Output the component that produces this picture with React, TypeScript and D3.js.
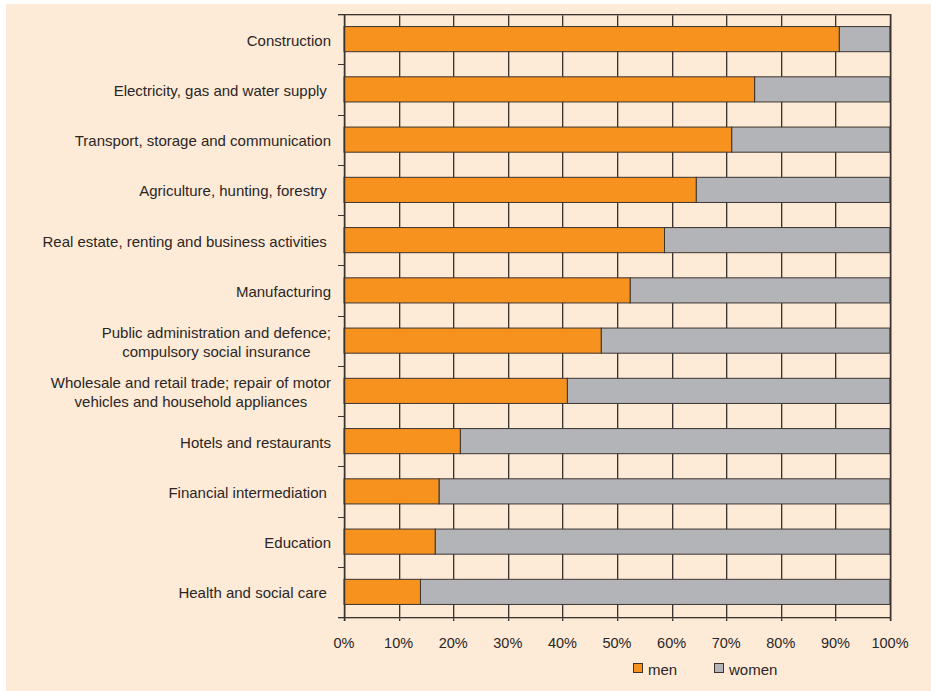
import React, { useEffect, useRef } from "react";
import * as d3 from "d3";

const categories: string[][] = [
  ["Construction"],
  ["Electricity, gas and water supply "],
  ["Transport, storage and communication"],
  ["Agriculture, hunting, forestry "],
  ["Real estate, renting and business activities "],
  ["Manufacturing"],
  ["Public administration and defence;", "compulsory social insurance"],
  ["Wholesale and retail trade; repair of motor", "vehicles and household appliances"],
  ["Hotels and restaurants"],
  ["Financial intermediation "],
  ["Education"],
  ["Health and social care "],
];
const menShare: number[] = [90.7, 75.2, 71.0, 64.5, 58.7, 52.4, 47.1, 40.9, 21.3, 17.4, 16.7, 14.0];
const xTicks: number[] = [0, 10, 20, 30, 40, 50, 60, 70, 80, 90, 100];
const seriesNames: string[] = ["men", "women"];
const seriesColors: string[] = ["#F7921E", "#B3B4B7"];

const W = 931;
const H = 691;
const M = { left: 344, right: 41, top: 14, bottom: 74 };
const FONT = "'Liberation Sans', Arial, sans-serif";
const TEXT = "#2b2626";
const LINE = "#3a3431";

export default function App() {
  const ref = useRef<SVGSVGElement | null>(null);
  useEffect(() => {
    const svg = d3.select(ref.current);
    svg.selectAll("*").remove();
    svg.append("rect").attr("x", 6).attr("y", 4).attr("width", W - 6).attr("height", H - 4).attr("fill", "#FDEBD7");

    const x = d3.scaleLinear().domain([0, 100]).range([M.left, W - M.right]);
    const y = d3
      .scaleBand<number>()
      .domain(d3.range(categories.length))
      .range([M.top, H - M.bottom])
      .paddingInner(0.5)
      .paddingOuter(0.25);
    const step = y.step();
    const y0 = M.top;
    const y1 = H - M.bottom;

    const g = svg.append("g");
    xTicks.forEach((t) => {
      const xx = Math.round(x(t)) + 0.5;
      g.append("line").attr("x1", xx + 1).attr("x2", xx + 1).attr("y1", y0).attr("y2", y1 + 4)
        .attr("stroke", "#8a7c70").attr("stroke-opacity", 0.55);
      g.append("line").attr("x1", xx).attr("x2", xx).attr("y1", y0).attr("y2", y1 + 4).attr("stroke", LINE);
    });
    [y0, y1].forEach((yy) => {
      const yr = Math.round(yy) + 0.5;
      g.append("line").attr("x1", M.left - 6).attr("x2", x(100)).attr("y1", yr + 1).attr("y2", yr + 1)
        .attr("stroke", "#8a7c70").attr("stroke-opacity", 0.55);
      g.append("line").attr("x1", M.left - 6).attr("x2", x(100) + 0.5).attr("y1", yr).attr("y2", yr).attr("stroke", LINE);
    });
    for (let i = 1; i < categories.length; i++) {
      const yr = Math.round(y0 + i * step) + 0.5;
      g.append("line").attr("x1", M.left - 6).attr("x2", M.left).attr("y1", yr).attr("y2", yr)
        .attr("stroke", LINE);
    }

    const bars = g.append("g");
    categories.forEach((_, i) => {
      const by = y(i)!;
      const bh = y.bandwidth();
      const m = menShare[i];
      bars.append("rect").attr("x", x(m)).attr("y", by).attr("width", x(100) - x(m)).attr("height", bh)
        .attr("fill", seriesColors[1]).attr("stroke", LINE).attr("stroke-width", 1);
      bars.append("rect").attr("x", x(0)).attr("y", by).attr("width", x(m) - x(0)).attr("height", bh)
        .attr("fill", seriesColors[0]).attr("stroke", LINE).attr("stroke-width", 1);
    });

    g.append("line").attr("x1", M.left + 0.5).attr("x2", M.left + 0.5).attr("y1", y0).attr("y2", y1 + 4)
      .attr("stroke", LINE).attr("stroke-width", 1.5);
    g.append("line").attr("x1", x(100) + 0.5).attr("x2", x(100) + 0.5).attr("y1", y0).attr("y2", y1 + 4)
      .attr("stroke", LINE).attr("stroke-width", 1.5);

    const labelRight = 331;
    categories.forEach((lines, i) => {
      const cy = y(i)! + y.bandwidth() / 2 + 1.3;
      const t = svg.append("text").attr("font-family", FONT).attr("font-size", 15).attr("fill", TEXT)
        .style("white-space", "pre").attr("text-anchor", "middle");
      const spans = lines.map((ln, k) =>
        t.append("tspan").attr("y", cy + (k - (lines.length - 1) / 2) * 19).attr("dy", "0.35em").text(ln)
      );
      let maxW = 0;
      spans.forEach((s) => {
        const w = (s.node() as SVGTextContentElement).getComputedTextLength();
        if (w > maxW) maxW = w;
      });
      spans.forEach((s) => s.attr("x", labelRight - maxW / 2));
    });

    xTicks.forEach((t) => {
      svg.append("text").attr("x", x(t)).attr("y", 643).attr("dy", "0.35em").attr("text-anchor", "middle")
        .attr("font-family", FONT).attr("font-size", 14.5).attr("fill", TEXT).text(`${t}%`);
    });

    const legendX = [633, 714];
    seriesNames.forEach((name, i) => {
      svg.append("rect").attr("x", legendX[i] + 0.5).attr("y", 663.5).attr("width", 9).attr("height", 9)
        .attr("fill", seriesColors[i]).attr("stroke", LINE);
      svg.append("text").attr("x", legendX[i] + 15).attr("y", 675)
        .attr("font-family", FONT).attr("font-size", 15).attr("fill", TEXT).text(name);
    });
  }, []);

  return (
    <svg
      ref={ref}
      width={W}
      height={H}
      style={{ position: "absolute", left: 0, top: 0, background: "#ffffff" }}
    />
  );
}
